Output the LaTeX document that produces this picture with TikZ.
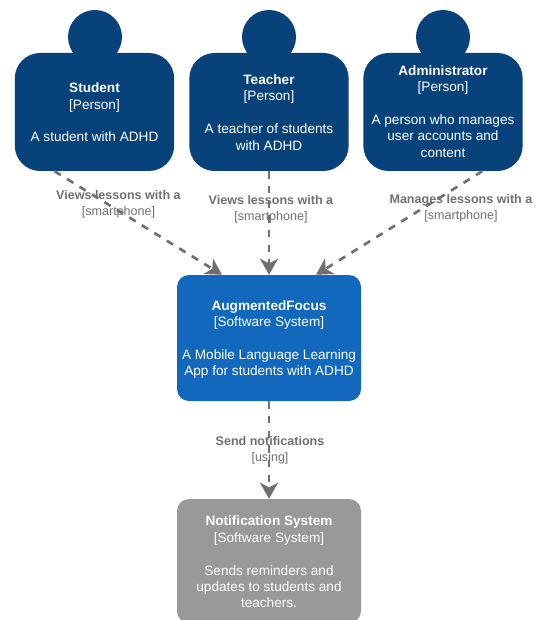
\documentclass[tikz,border=0pt]{standalone}
\usepackage{fontspec}
\setmainfont{Liberation Sans}
\usetikzlibrary{arrows.meta,calc}
\definecolor{persona}{HTML}{08427B}
\definecolor{systema}{HTML}{1168BD}
\definecolor{extsys}{HTML}{999999}
\definecolor{linkc}{HTML}{707070}
\tikzset{
  x=0.75pt,y=-0.75pt,
  bodytext/.style={text=white,align=center,inner sep=0pt,font=\fontsize{10.2}{12.3}\selectfont},
  personbody/.style={bodytext,fill=persona,rectangle,rounded corners=19pt,minimum width=119.5pt,minimum height=88.5pt},
  personhead/.style={circle,fill=persona,minimum size=40.5pt,inner sep=0pt},
  sysbox/.style={bodytext,rectangle,rounded corners=9pt,minimum width=138pt},
  link/.style={draw=linkc,line width=2pt,dash pattern=on 5.5pt off 5.5pt,-{Stealth[length=12pt,width=13.5pt,inset=3.5pt]}},
  linklabel/.style={text=linkc,align=center,inner sep=0pt,font=\fontsize{9.4}{12}\selectfont},
}
\begin{document}
\begin{tikzpicture}
\useasboundingbox (0,0) rectangle (536,620);
\fill[white] (0,0) rectangle (536,620);
\clip (0,0) rectangle (536,620);
\node[personhead] (studenthead) at (95,37) {};
\node[personhead] (teacherhead) at (269,37) {};
\node[personhead] (adminhead) at (443,37) {};
\node[personbody] (student) at (94.5,112) {};
\node[personbody] (teacher) at (269,112) {};
\node[personbody] (admin) at (443,112) {};
\node[bodytext] (studenttext) at (94.5,112.5) {\textbf{Student}\\{[Person]}\\~\\A student with ADHD};
\node[bodytext] (teachertext) at (269,112.5) {\textbf{Teacher}\\{[Person]}\\~\\A teacher of students\\with ADHD};
\node[bodytext] (admintext) at (443,111.5) {\textbf{Administrator}\\{[Person]}\\~\\A person who manages\\user accounts and\\content};
\node[sysbox,fill=systema,minimum height=94.5pt] (focus) at (269,338) {};
\node[bodytext] (focustext) at (269,339.5) {\textbf{AugmentedFocus}\\{[Software System]}\\~\\A Mobile Language Learning\\App for students with ADHD};
\node[sysbox,fill=extsys,minimum height=93pt] (notify) at (269,561) {};
\node[bodytext] (notifytext) at (269,562) {\textbf{Notification System}\\{[Software System]}\\~\\Sends reminders and\\updates to students and\\teachers.};
\draw[link] ($(student.south west)!0.25!(student.south east)$) -- ($(focus.north west)!0.245!(focus.north east)$);
\draw[link] (teacher.south) -- (focus.north);
\draw[link] ($(admin.south west)!0.745!(admin.south east)$) -- ($(focus.north west)!0.755!(focus.north east)$);
\draw[link] (focus.south) -- (notify.north);
\node[linklabel] (lab1) at (118.5,204) {\textbf{Views lessons with a}\\{[smartphone]}};
\node[linklabel] (lab2) at (271,209) {\textbf{Views lessons with a}\\{[smartphone]}};
\node[linklabel] (lab3) at (461,208) {\textbf{Manages lessons with a}\\{[smartphone]}};
\node[linklabel] (lab4) at (270,450) {\textbf{Send notifications}\\{[using]}};
\end{tikzpicture}
\end{document}
